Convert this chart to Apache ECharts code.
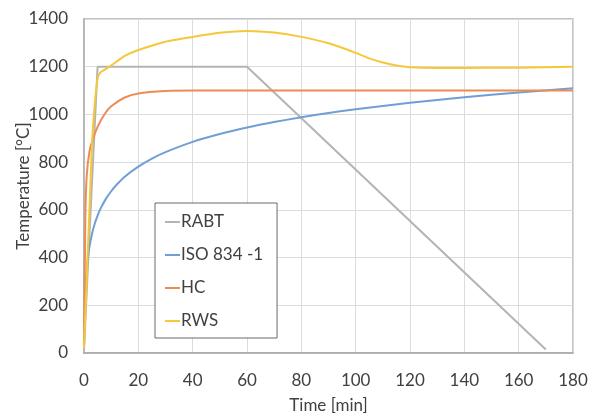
<!DOCTYPE html>
<html>
<head>
    <meta charset="utf-8">
    <title>Fire curves</title>
    <script src="https://cdn.jsdelivr.net/npm/echarts@6/dist/echarts.min.js"></script>
</head>
<body style="margin:0;background:#fff;">
    <div id="main" style="width: 601px;height:414px;"></div>
    <script type="text/javascript">
// data (time in min, temperature in °C)
var rabtTime = [0, 5, 60, 170];
var rabtTemp = [20, 1200, 1200, 15];

var isoTime = [0, 0.5, 1, 1.5, 2, 3, 4, 5, 6, 8, 10, 12, 15, 20, 25, 30, 40, 50, 60, 70, 80, 90, 100, 120, 140, 160, 180];
var isoTemp = [20, 261, 349, 404, 445, 502, 544, 576, 603, 645, 678, 705, 739, 781, 815, 842, 885, 918, 945, 968, 988, 1006, 1022, 1049, 1072, 1092, 1110];

var hcTime = [0, 0.5, 1, 2, 3, 5, 7.5, 10, 15, 20, 30, 40, 60, 100, 140, 180];
var hcTemp = [20, 569, 743, 844, 887, 948, 1000, 1034, 1071, 1088, 1098, 1100, 1100, 1100, 1100, 1100];

var rwsTime = [0, 2, 3, 4, 5, 6, 8, 10, 15, 20, 30, 40, 50, 60, 70, 80, 90, 100, 105, 110, 115, 120, 130, 140, 160, 180];
var rwsTemp = [20, 600, 890, 1050, 1150, 1175, 1190, 1205, 1245, 1270, 1305, 1325, 1342, 1350, 1343, 1325, 1298, 1258, 1235, 1218, 1205, 1198, 1195, 1195, 1196, 1200];

var seriesNames = ['RABT', 'ISO 834 -1', 'HC', 'RWS'];
var seriesColors = ['#b4b4b4', '#6f9fd4', '#ec8c55', '#f5c83a'];

function pairs(xs, ys) {
    return xs.map(function (x, i) { return [x, ys[i]]; });
}

var allData = [
    pairs(rabtTime, rabtTemp),
    pairs(isoTime, isoTemp),
    pairs(hcTime, hcTemp),
    pairs(rwsTime, rwsTemp)
];

var font = 'Lato';
var textColor = '#404040';

var myChart = echarts.init(document.getElementById('main'));

var option = {
    backgroundColor: '#ffffff',
    animation: false,
    grid: {
        left: 84, right: 28, top: 19, bottom: 61,
        containLabel: false,
        outerBoundsMode: 'none',
        show: true,
        borderColor: '#b0b0b0',
        borderWidth: 1.5
    },
    legend: {
        orient: 'vertical',
        left: 155,
        top: 203,
        padding: [10, 14, 8, 10],
        itemGap: 15,
        itemWidth: 15,
        itemHeight: 2,
        icon: 'rect',
        borderColor: '#6a6a6a',
        borderWidth: 1,
        backgroundColor: '#ffffff',
        textStyle: {
            fontFamily: font,
            fontSize: 17,
            color: textColor,
            padding: [0, 0, 0, -4],
            lineHeight: 18
        },
        data: seriesNames
    },
    xAxis: {
        type: 'value',
        min: 0,
        max: 180,
        interval: 20,
        name: 'Time [min]',
        nameLocation: 'middle',
        nameGap: 44,
        nameMoveOverlap: false,
        nameTextStyle: { fontFamily: font, fontSize: 17, color: textColor },
        axisLine: { show: true, lineStyle: { color: '#a8a8a8', width: 1.5 } },
        axisTick: { show: false },
        axisLabel: { fontFamily: font, fontSize: 17, color: textColor, margin: 19 },
        splitLine: { show: true, lineStyle: { color: '#dcdcdc', width: 1 } }
    },
    yAxis: {
        type: 'value',
        min: 0,
        max: 1400,
        interval: 200,
        name: 'Temperature [°C]',
        nameLocation: 'middle',
        nameGap: 52,
        nameMoveOverlap: false,
        nameTextStyle: { fontFamily: font, fontSize: 17, color: textColor },
        axisLine: { show: true, lineStyle: { color: '#b0b0b0', width: 1.5 } },
        axisTick: { show: false },
        axisLabel: {
            fontFamily: font, fontSize: 17, color: textColor, margin: 16,
            formatter: function (v) { return String(v); }
        },
        splitLine: { show: true, lineStyle: { color: '#dcdcdc', width: 1 } }
    },
    series: seriesNames.map(function (name, i) {
        return {
            name: name,
            type: 'line',
            data: allData[i],
            showSymbol: false,
            symbol: 'none',
            smooth: i === 0 ? false : 0.2,
            color: seriesColors[i],
            lineStyle: { width: 2, color: seriesColors[i] }
        };
    })
};

myChart.setOption(option);
    </script>
</body>
</html>
